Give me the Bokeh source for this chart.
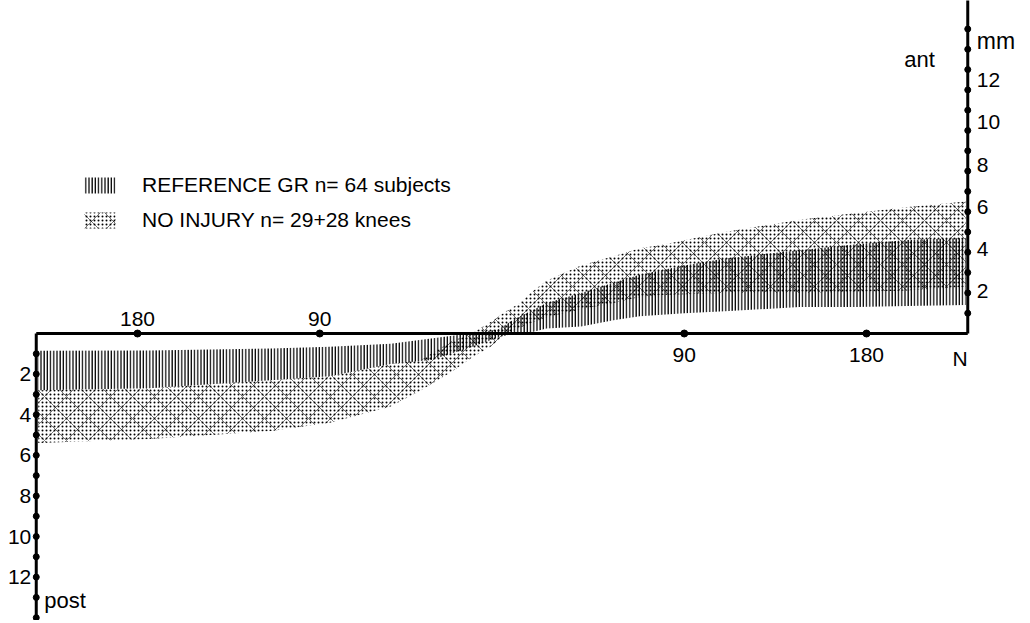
from bokeh.plotting import figure
from bokeh.models import Range1d, Legend, LegendItem
from bokeh.core.properties import value
from bokeh.embed import file_html
from bokeh.resources import INLINE

# ---- data (force in N, displacement in mm; negative = posterior) ----
ref_force = [-229, -174, -114, -85, -55, -35, -16, -2, 6, 14, 22, 39, 55, 68, 90, 110, 147, 175, 200, 229]
ref_low = [-2.8, -2.7, -2.3, -2.1, -1.5, -1.3, -0.7, -0.2, 0.0, 0.05, 0.25, 0.35, 0.65, 0.85, 1.0, 1.1, 1.3, 1.3, 1.35, 1.4]
ref_high = [-0.85, -0.84, -0.74, -0.65, -0.5, -0.25, 0.0, 0.2, 0.7, 1.1, 1.5, 2.0, 2.5, 2.9, 3.35, 3.7, 4.1, 4.4, 4.6, 4.7]

ni_force = [-229, -174, -114, -85, -55, -40, -25, -15, -5, 2, 9, 14, 22, 39, 55, 68, 78, 110, 147, 197, 229]
ni_low = [-5.4, -5.2, -4.8, -4.4, -3.6, -2.8, -1.9, -1.2, -0.6, 0.0, 0.3, 0.5, 0.8, 1.2, 1.5, 1.8, 1.9, 2.0, 2.0, 2.1, 2.3]
ni_high = [-2.8, -2.7, -2.3, -2.1, -1.5, -1.3, -0.4, 0.0, 0.6, 1.1, 1.5, 2.0, 2.6, 3.35, 3.8, 4.2, 4.35, 5.0, 5.6, 6.2, 6.5]

force_ticks_post = [-180, -90]
force_labels_post = ["180", "90"]
force_ticks_ant = [90, 180]
force_labels_ant = ["90", "180"]
ant_ticks = [2, 4, 6, 8, 10, 12]
ant_minor = list(range(1, 16))
post_ticks = [-2, -4, -6, -8, -10, -12]
post_minor = list(range(-1, -15, -1))

label_ref = "REFERENCE GR n= 64 subjects"
label_ni = "NO INJURY n= 29+28 knees"

AX = 230  # force limit of the drawn axes
FONT = value("Liberation Sans")
FS = "21px"
INK = "black"

W, H = 1024, 620
PX_N = 2.025    # pixels per newton
PX_MM = 20.3    # pixels per mm
x0 = -501.5 / PX_N
y1 = 333 / PX_MM

p = figure(width=W, height=H, output_backend="svg", toolbar_location=None,
           x_range=Range1d(x0, x0 + W / PX_N), y_range=Range1d(y1 - H / PX_MM, y1),
           x_axis_type=None, y_axis_type=None, min_border=0)
p.outline_line_color = None
p.background_fill_color = "white"

# bands
r_ni_dot = p.varea(x=ni_force, y1=ni_low, y2=ni_high, fill_color=None,
                   hatch_pattern="dot", hatch_scale=4, hatch_weight=2.0, hatch_color=INK)
r_ni_x = p.varea(x=ni_force, y1=ni_low, y2=ni_high, fill_color=None,
                 hatch_pattern="diagonal_cross", hatch_scale=22, hatch_weight=0.9,
                 hatch_color=INK, hatch_alpha=0.6)
r_ref = p.varea(x=ref_force, y1=ref_low, y2=ref_high, fill_color=None,
                hatch_pattern="vertical_line", hatch_scale=3.2, hatch_weight=1.3, hatch_color=INK)

# axes drawn as lines
p.line(x=[-AX, AX], y=[0, 0], line_color=INK, line_width=3)
p.line(x=[AX, AX], y=[0, 17], line_color=INK, line_width=3)
p.line(x=[-AX, -AX], y=[0, -14.5], line_color=INK, line_width=3)

# tick marks
p.scatter(x=force_ticks_post + force_ticks_ant, y=[0] * 4, size=7, color=INK)
p.scatter(x=[AX] * len(ant_minor), y=ant_minor, size=6, color=INK)
p.scatter(x=[-AX] * len(post_minor), y=post_minor, size=6, color=INK)

# tick labels
txt = dict(text_font=FONT, text_color=INK)
p.text(x=force_ticks_post, y=[0, 0], text=force_labels_post, text_align="center",
       text_baseline="bottom", y_offset=-8, text_font_size=FS, **txt)
p.text(x=force_ticks_ant, y=[0, 0], text=force_labels_ant, text_align="center",
       text_baseline="top", y_offset=14, text_font_size=FS, **txt)
p.text(x=[AX], y=[0], text=["N"], text_align="right", text_baseline="top",
       x_offset=0, y_offset=13, text_font_size=FS, **txt)
p.text(x=[AX] * len(ant_ticks), y=[v * 1.04 for v in ant_ticks], text=[str(v) for v in ant_ticks],
       text_align="left", text_baseline="middle", x_offset=9, text_font_size=FS, **txt)
p.text(x=[-AX] * len(post_ticks), y=post_ticks, text=[str(-v) for v in post_ticks],
       text_align="right", text_baseline="middle", x_offset=-5, text_font_size=FS, **txt)
p.text(x=[AX], y=[14.4], text=["mm"], text_align="left", text_baseline="middle",
       x_offset=9, text_font_size="23px", **txt)
p.text(x=[AX], y=[13.5], text=["ant"], text_align="right", text_baseline="middle",
       x_offset=-33, text_font_size="22px", **txt)
p.text(x=[-AX], y=[-13.15], text=["post"], text_align="left", text_baseline="middle",
       x_offset=8, text_font_size="22px", **txt)

legend = Legend(items=[LegendItem(label=label_ref, renderers=[r_ref]),
                       LegendItem(label=label_ni, renderers=[r_ni_dot, r_ni_x])],
                location=(80, H - 232), border_line_color=None, background_fill_alpha=0,
                padding=0, margin=0, spacing=11, glyph_width=39, glyph_height=20,
                label_height=20, label_standoff=23, label_text_font="Liberation Sans",
                label_text_font_size=FS, label_text_color=INK)
p.add_layout(legend)

open("out.html", "w").write(file_html(p, INLINE))
